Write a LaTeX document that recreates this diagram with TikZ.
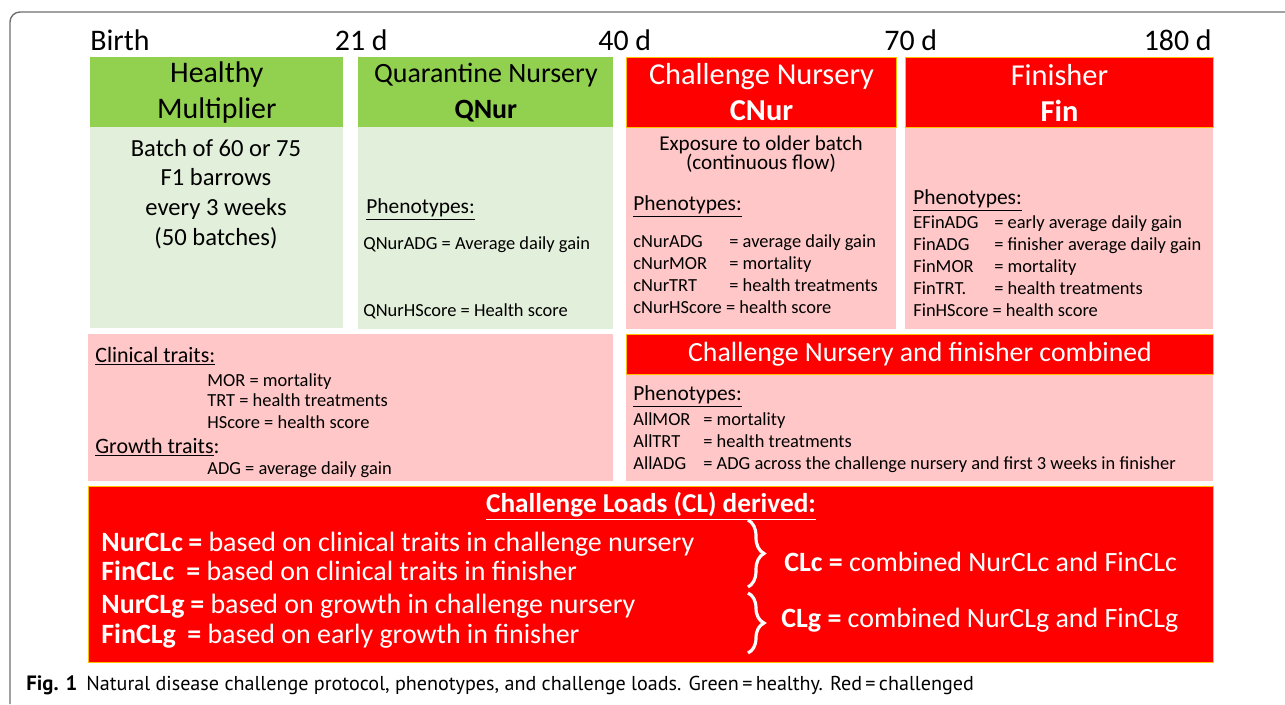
\documentclass[tikz,border=0pt]{standalone}
\usepackage{fontspec}
\setmainfont{Carlito}
\newfontfamily\capfont{PT Sans}
\usepackage{tikz}
\usetikzlibrary{positioning, decorations.pathreplacing}

\definecolor{hgreen}{HTML}{92D050}
\definecolor{lgreen}{HTML}{E2EFDA}
\definecolor{cred}{HTML}{FF0000}
\definecolor{lpink}{HTML}{FFC7C7}
\definecolor{cgold}{HTML}{FFC000}
\definecolor{framegray}{HTML}{6E6E6E}

\tikzset{
    greenhead/.style={
        rectangle,
        fill=hgreen, % 健康阶段
        anchor=north west,
        inner sep=0,
        align=center,
        font=\fontsize{17}{20.5}\selectfont
    },
    redhead/.style={
        rectangle,
        fill=cred, % 攻毒阶段
        draw=cgold, % 边框为金色
        line width=0.6pt,
        anchor=north west,
        inner sep=0,
        align=center,
        text=white,
        font=\fontsize{17.3}{20.5}\selectfont
    },
    greenbody/.style={
        rectangle,
        fill=lgreen,
        anchor=north west,
        inner sep=0
    },
    pinkbody/.style={
        rectangle,
        fill=lpink,
        anchor=north west,
        inner sep=0
    }
}

\begin{document}
\begin{tikzpicture}[
                x=0.02cm, y=-0.02cm,
                timelabel/.style={inner sep=0, font=\fontsize{17}{20}\selectfont},
                pheno/.style={anchor=base west, inner sep=0, font=\fontsize{12.2}{14}\selectfont},
                entry/.style={anchor=base west, inner sep=0, font=\fontsize{10.5}{12.6}\selectfont},
                cltext/.style={anchor=base west, inner sep=0, text=white, font=\fontsize{15.9}{18}\selectfont},
                clbrace/.style={draw=white, line width=1.8pt, decorate, decoration={brace, amplitude=0.32cm}}
            ]
            \useasboundingbox (0,0) rectangle (1285,704);
            % 外框
            \draw[framegray, line width=0.8pt, rounded corners=0.2cm] (1285,12) -- (10,12) -- (10,704);

            % 时间轴
            \node[timelabel, anchor=base west] (tbirth) at (90,50) {Birth};
            \node[timelabel, anchor=base east] (t21) at (388,50) {21 d};
            \node[timelabel, anchor=base west] (t40) at (598,50) {40 d};
            \node[timelabel, anchor=base west] (t70) at (884,50) {70 d};
            \node[timelabel, anchor=base east] (t180) at (1212,50) {180 d};

            % 第一行
            \node[greenbody, minimum width=5.06cm, minimum height=4.02cm] (hmbody) at (90,127) {};
            \node[greenhead, minimum width=5.06cm, minimum height=1.4cm] (hmhead) at (90,57) {Healthy\\Multiplier};
            \node[greenbody, minimum width=5.1cm, minimum height=4.04cm] (qnbody) at (358,127) {};
            \node[greenhead, minimum width=5.1cm, minimum height=1.4cm,
                  font=\fontsize{15.9}{20.5}\selectfont] (qnhead) at (358,57) {Quarantine Nursery\\\textbf{QNur}};
            \node[pinkbody, minimum width=5.4cm, minimum height=4.04cm] (cnbody) at (626,127) {};
            \node[redhead, minimum width=5.4cm, minimum height=1.4cm] (cnhead) at (626,57) {Challenge Nursery\\\textbf{CNur}};
            \node[pinkbody, minimum width=6.16cm, minimum height=4.04cm] (fnbody) at (905,127) {};
            \node[redhead, minimum width=6.16cm, minimum height=1.4cm] (fnhead) at (905,57) {Finisher\\\textbf{Fin}};

            \node[align=center, inner sep=0, font=\fontsize{14}{17}\selectfont] (hmtext) at (216,194)
                {Batch of 60 or 75\\F1 barrows\\every 3 weeks\\(50 batches)};

            \node[pheno] (qnphen) at (366,213) {\underline{Phenotypes:}};
            \node[entry] (qnadg) at (363,249) {QNurADG = Average daily gain};
            \node[entry] (qnhs) at (363,316) {QNurHScore = Health score};

            \node[align=center, inner sep=0, font=\fontsize{12}{11}\selectfont] (cnexp) at (761,154)
                {Exposure to older batch\\(continuous flow)};
            \node[pheno] (cnphen) at (633,210) {\underline{Phenotypes:}};
            \node[entry] (cnlist) at (633,247) {\begin{tabular}[t]{@{}p{1.92cm}@{}l@{}}
                cNurADG & = average daily gain\\
                cNurMOR & = mortality\\
                cNurTRT & = health treatments\\
                \multicolumn{2}{@{}l@{}}{cNurHScore = health score}
            \end{tabular}};

            \node[pheno] (fnphen) at (913,204) {\underline{Phenotypes:}};
            \node[entry] (fnlist) at (913,228) {\begin{tabular}[t]{@{}p{1.62cm}@{}l@{}}
                EFinADG & = early average daily gain\\
                FinADG & = finisher average daily gain\\
                FinMOR & = mortality\\
                FinTRT. & = health treatments\\
                \multicolumn{2}{@{}l@{}}{FinHScore = health score}
            \end{tabular}};

            % 第二行
            \node[pinkbody, minimum width=10.5cm, minimum height=2.94cm] (trbody) at (88,334) {};
            \node[pheno, font=\fontsize{12.5}{14}\selectfont] (clin) at (95,362) {\underline{Clinical traits:}};
            \node[entry] (trmor) at (207,386) {MOR = mortality};
            \node[entry] (trtrt) at (207,406) {TRT = health treatments};
            \node[entry] (trhs) at (207,428) {HScore = health score};
            \node[pheno, font=\fontsize{12.5}{14}\selectfont] (grow) at (95,453) {\underline{Growth traits}:};
            \node[entry] (tradg) at (207,474) {ADG = average daily gain};

            \node[pinkbody, minimum width=11.74cm, minimum height=2.14cm] (cbbody) at (626,374) {};
            \node[redhead, minimum width=11.74cm, minimum height=0.8cm,
                  font=\fontsize{15.8}{18}\selectfont] (cbhead) at (626,334) {Challenge Nursery and finisher combined};
            \node[pheno] (cbphen) at (633,400) {\underline{Phenotypes:}};
            \node[entry] (cblist) at (633,425) {\begin{tabular}[t]{@{}p{1.4cm}@{}l@{}}
                AllMOR & = mortality\\
                AllTRT & = health treatments\\
                AllADG & = ADG across the challenge nursery and first 3 weeks in finisher
            \end{tabular}};

            % 攻毒负荷
            \node[redhead, minimum width=22.5cm, minimum height=3.52cm] (clbox) at (88,486) {};
            \node[anchor=base, inner sep=0, text=white, font=\bfseries\fontsize{15.5}{18}\selectfont] (cltitle) at (651,512)
                {\underline{Challenge Loads (CL) derived:}};
            \node[cltext] (nurclc) at (101,551) {\textbf{NurCLc}};
            \node[cltext] (nurclcd) at (188,551) {\textbf{=} based on clinical traits in challenge nursery};
            \node[cltext] (finclc) at (101,580) {\textbf{FinCLc}};
            \node[cltext] (finclcd) at (186,580) {\textbf{=} based on clinical traits in finisher};
            \node[cltext] (nurclg) at (101,613) {\textbf{NurCLg}};
            \node[cltext] (nurclgd) at (190,613) {\textbf{=} based on growth in challenge nursery};
            \node[cltext] (finclg) at (101,643) {\textbf{FinCLg}};
            \node[cltext] (finclgd) at (187,643) {\textbf{=} based on early growth in finisher};

            \coordinate (bra) at (748,520);
            \coordinate (brb) at (748,587);
            \coordinate (brc) at (748,593);
            \coordinate (brd) at (748,653);
            \draw[clbrace] (bra) -- (brb);
            \draw[clbrace] (brc) -- (brd);
            \node[cltext] (clc) at (784,571) {\textbf{CLc =} combined NurCLc and FinCLc};
            \node[cltext] (clg) at (781,627) {\textbf{CLg =} combined NurCLg and FinCLg};

            % 图注
            \node[anchor=base west, inner sep=0, font=\capfont\bfseries\fontsize{11.8}{14}\selectfont] (figno) at (26,690) {Fig. 1};
            \node[anchor=base west, inner sep=0, font=\capfont\fontsize{11.45}{13}\selectfont] (figcap) at (86,690)
                {Natural disease challenge protocol, phenotypes, and challenge loads. Green\,=\,healthy. Red\,=\,challenged};
            \end{tikzpicture}
\end{document}
